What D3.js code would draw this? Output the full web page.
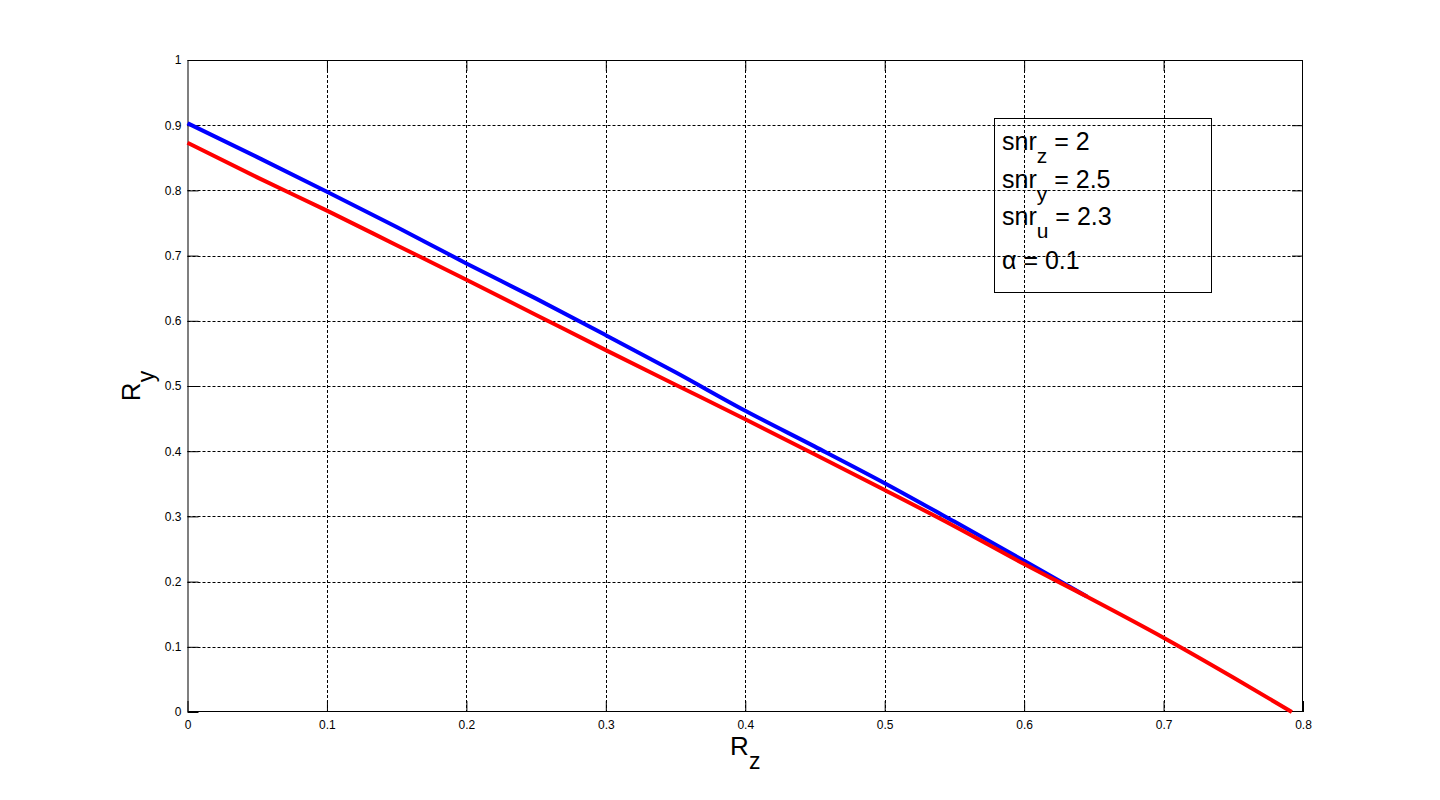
<!DOCTYPE html>
<html>
<head>
<meta charset="utf-8">
<script src="https://cdn.jsdelivr.net/npm/d3@7"></script>
<style>
  body { margin: 0; background: #fff; }
  svg { display: block; font-family: "Liberation Sans", Arial, sans-serif; }
</style>
</head>
<body>
<svg width="1440" height="800"></svg>
<script>
// values
var xTicks = [0, 0.1, 0.2, 0.3, 0.4, 0.5, 0.6, 0.7, 0.8];
var yTicks = [0, 0.1, 0.2, 0.3, 0.4, 0.5, 0.6, 0.7, 0.8, 0.9, 1];

var blueRz = [0, 0.05, 0.1, 0.15, 0.2, 0.25, 0.3, 0.35, 0.4, 0.45, 0.5, 0.55, 0.6, 0.645];
var blueRy = [0.903, 0.851, 0.798, 0.744, 0.688, 0.634, 0.578, 0.521, 0.462, 0.407, 0.351, 0.292, 0.232, 0.177];

var redRz = [0, 0.05, 0.1, 0.15, 0.2, 0.25, 0.3, 0.35, 0.4, 0.45, 0.5, 0.55, 0.6, 0.645, 0.7, 0.75, 0.792];
var redRy = [0.873, 0.82, 0.769, 0.716, 0.663, 0.609, 0.555, 0.502, 0.449, 0.395, 0.3405, 0.285, 0.227, 0.177, 0.114, 0.053, 0];

var legendLines = [
  {main: "snr", sub: "z", rest: " = 2"},
  {main: "snr", sub: "y", rest: " = 2.5"},
  {main: "snr", sub: "u", rest: " = 2.3"},
  {main: "\u03b1", sub: "", rest: " = 0.1"}
];

var svg = d3.select("svg"),
    pLeft = 187.5, pRight = 1303, pTop = 60, pBottom = 712;

var x = d3.scaleLinear().domain([0, 0.8]).range([pLeft, pRight]),
    y = d3.scaleLinear().domain([0, 1]).range([pBottom, pTop]);

svg.append("rect")
  .attr("x", pLeft).attr("y", pTop)
  .attr("width", pRight - pLeft).attr("height", pBottom - pTop)
  .attr("fill", "#fff");

// grid
var grid = svg.append("g")
  .attr("stroke", "#000")
  .attr("stroke-width", 1)
  .attr("stroke-dasharray", "3,2");

grid.selectAll(".gx")
  .data(xTicks.slice(1, -1))
  .enter().append("line")
  .attr("x1", function(d){ return Math.round(x(d)) + 0.5 })
  .attr("x2", function(d){ return Math.round(x(d)) + 0.5 })
  .attr("y1", pTop).attr("y2", pBottom);

grid.selectAll(".gy")
  .data(yTicks.slice(1, -1))
  .enter().append("line")
  .attr("y1", function(d){ return Math.round(y(d)) + 0.5 })
  .attr("y2", function(d){ return Math.round(y(d)) + 0.5 })
  .attr("x1", pLeft).attr("x2", pRight);

// axes, ticks pointing inside like matlab
var tl = 11;
var fmt = function(d){ return d3.format("")(d) };

var gb = svg.append("g")
  .attr("transform", "translate(0," + pBottom + ")")
  .call(d3.axisBottom(x).tickValues(xTicks).tickFormat(fmt).tickSizeInner(-tl).tickSizeOuter(0).tickPadding(8));
var gl = svg.append("g")
  .attr("transform", "translate(" + pLeft + ",0)")
  .call(d3.axisLeft(y).tickValues(yTicks).tickFormat(fmt).tickSizeInner(-tl).tickSizeOuter(0).tickPadding(6));
var gt = svg.append("g")
  .attr("transform", "translate(0," + pTop + ")")
  .call(d3.axisTop(x).tickValues(xTicks.slice(1, -1)).tickFormat("").tickSizeInner(-tl).tickSizeOuter(0));
var gr = svg.append("g")
  .attr("transform", "translate(" + pRight + ",0)")
  .call(d3.axisRight(y).tickValues(yTicks.slice(1, -1)).tickFormat("").tickSizeInner(-tl).tickSizeOuter(0));

[gb, gl, gt, gr].forEach(function(g){
  g.select(".domain").remove();
  g.selectAll("line").attr("stroke", "#000");
  g.selectAll("text")
    .attr("fill", "#000")
    .style("font-size", "12px")
    .style("font-family", "'Liberation Sans', Arial, sans-serif");
});
gb.selectAll("text").attr("dy", "0.71em");

svg.append("rect")
  .attr("x", pLeft + 0.5).attr("y", pTop + 0.5)
  .attr("width", pRight - pLeft - 1).attr("height", pBottom - pTop - 1)
  .attr("fill", "none")
  .attr("stroke", "#000")
  .attr("stroke-width", 1);

// curves
var line = d3.line()
  .curve(d3.curveMonotoneX)
  .x(function(d){ return x(d[0]) })
  .y(function(d){ return y(d[1]) });

svg.append("path")
  .datum(blueRz.map(function(v, i){ return [v, blueRy[i]] }))
  .attr("d", line)
  .attr("fill", "none")
  .attr("stroke", "#0000ff")
  .attr("stroke-width", 4);

svg.append("path")
  .datum(redRz.map(function(v, i){ return [v, redRy[i]] }))
  .attr("d", line)
  .attr("fill", "none")
  .attr("stroke", "#ff0000")
  .attr("stroke-width", 4);

// legend box
svg.append("rect")
  .attr("x", 994.5).attr("y", 118.5)
  .attr("width", 217).attr("height", 174)
  .attr("fill", "none")
  .attr("stroke", "#000")
  .attr("stroke-width", 1);

var baselines = [150, 188, 225, 269];
legendLines.forEach(function(l, i){
  var t = svg.append("text")
    .attr("x", 1002)
    .attr("y", baselines[i])
    .attr("fill", "#000")
    .style("font-size", "25px");
  t.append("tspan").text(l.main);
  if (l.sub) {
    t.append("tspan").attr("dy", 13).style("font-size", "21px").text(l.sub);
    t.append("tspan").attr("dy", -13).text(l.rest);
  } else {
    t.append("tspan").text(l.rest);
  }
});

// axis labels
var xl = svg.append("text")
  .attr("x", (pLeft + pRight) / 2)
  .attr("y", 755)
  .attr("text-anchor", "middle")
  .attr("fill", "#000")
  .style("font-size", "26px");
xl.append("tspan").text("R");
xl.append("tspan").attr("dy", 14).style("font-size", "23px").text("z");

var yl = svg.append("text")
  .attr("transform", "translate(140," + ((pTop + pBottom) / 2) + ") rotate(-90)")
  .attr("text-anchor", "middle")
  .attr("fill", "#000")
  .style("font-size", "26px");
yl.append("tspan").text("R");
yl.append("tspan").attr("dy", 14).style("font-size", "23px").text("y");
</script>
</body>
</html>
